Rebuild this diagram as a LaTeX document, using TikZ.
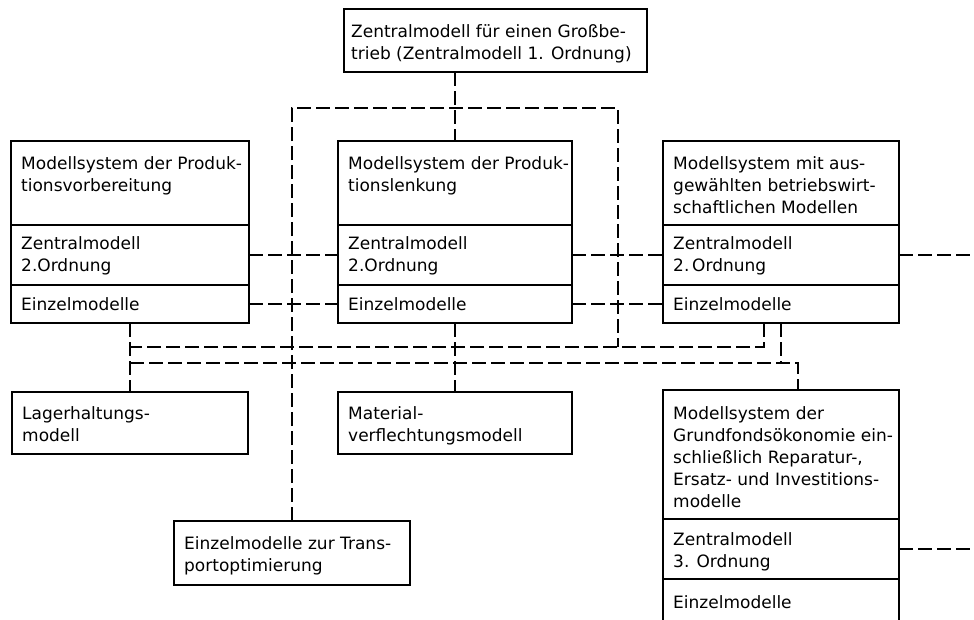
\documentclass[tikz,border=0pt]{standalone}
\usepackage{fontspec}
\setmainfont{DejaVu Sans}
\begin{document}
\begin{tikzpicture}[x=1pt,y=-1pt,
  box/.style={draw, line width=2pt, anchor=north west, inner sep=0pt, outer sep=0pt},
  txt/.style={anchor=north west, align=left, inner sep=0pt, font=\fontsize{17}{22}\selectfont},
  link/.style={line width=2pt, dash pattern=on 14pt off 5pt}]
\path[use as bounding box, clip] (0,0) rectangle (974,619);
\fill[white] (0,0) rectangle (974,619);

% top-level central model
\node[box, minimum width=303pt, minimum height=63pt] (T) at (344,9) {};
\node[txt] (Tt) at ([xshift=7pt,yshift=-15pt]T.north west)
  {Zentralmodell für einen Großbe-\\trieb (Zentralmodell 1. Ordnung)};

% left column: Produktionsvorbereitung
\node[box, minimum width=238pt, minimum height=84pt] (L1) at (11,141) {};
\node[box, minimum width=238pt, minimum height=60pt] (L2) at (11,225) {};
\node[box, minimum width=238pt, minimum height=38pt] (L3) at (11,285) {};
\node[txt] (L1t) at ([xshift=10pt,yshift=-15pt]L1.north west) {Modellsystem der Produk-\\tionsvorbereitung};
\node[txt] (L2t) at ([xshift=10pt,yshift=-11pt]L2.north west) {Zentralmodell\\2.Ordnung};
\node[txt] (L3t) at ([xshift=10pt,yshift=-12pt]L3.north west) {Einzelmodelle};

% middle column: Produktionslenkung
\node[box, minimum width=234pt, minimum height=84pt] (M1) at (338,141) {};
\node[box, minimum width=234pt, minimum height=60pt] (M2) at (338,225) {};
\node[box, minimum width=234pt, minimum height=38pt] (M3) at (338,285) {};
\node[txt] (M1t) at ([xshift=10pt,yshift=-15pt]M1.north west) {Modellsystem der Produk-\\tionslenkung};
\node[txt] (M2t) at ([xshift=10pt,yshift=-11pt]M2.north west) {Zentralmodell\\2.Ordnung};
\node[txt] (M3t) at ([xshift=10pt,yshift=-12pt]M3.north west) {Einzelmodelle};

% right column: betriebswirtschaftliche Modelle
\node[box, minimum width=236pt, minimum height=84pt] (R1) at (663,141) {};
\node[box, minimum width=236pt, minimum height=60pt] (R2) at (663,225) {};
\node[box, minimum width=236pt, minimum height=38pt] (R3) at (663,285) {};
\node[txt] (R1t) at ([xshift=10pt,yshift=-15pt]R1.north west) {Modellsystem mit aus-\\gewählten betriebswirt-\\schaftlichen Modellen};
\node[txt] (R2t) at ([xshift=10pt,yshift=-11pt]R2.north west) {Zentralmodell\\2.\,Ordnung};
\node[txt] (R3t) at ([xshift=10pt,yshift=-12pt]R3.north west) {Einzelmodelle};

% single models
\node[box, minimum width=236pt, minimum height=62pt] (LA) at (12,392) {};
\node[txt] (LAt) at ([xshift=10pt,yshift=-14pt]LA.north west) {Lagerhaltungs-\\modell};
\node[box, minimum width=234pt, minimum height=62pt] (MA) at (338,392) {};
\node[txt] (MAt) at ([xshift=10pt,yshift=-14pt]MA.north west) {Material-\\verflechtungsmodell};
\node[box, minimum width=236pt, minimum height=64pt] (TR) at (174,521) {};
\node[txt] (TRt) at ([xshift=10pt,yshift=-15pt]TR.north west) {Einzelmodelle zur Trans-\\portoptimierung};

% Grundfondsökonomie
\node[box, minimum width=236pt, minimum height=129pt] (G1) at (663,390) {};
\node[box, minimum width=236pt, minimum height=60pt] (G2) at (663,519) {};
\node[box, minimum width=236pt, minimum height=60pt] (G3) at (663,579) {};
\node[txt] (G1t) at ([xshift=10pt,yshift=-16pt]G1.north west) {Modellsystem der\\Grundfondsökonomie ein-\\schließlich Reparatur-,\\Ersatz- und Investitions-\\modelle};
\node[txt] (G2t) at ([xshift=10pt,yshift=-13pt]G2.north west) {Zentralmodell\\3. Ordnung};
\node[txt] (G3t) at ([xshift=10pt,yshift=-16pt]G3.north west) {Einzelmodelle};

% helper points for the dashed routing
\coordinate (loopNW) at (292,108);
\coordinate (loopNE) at (618,108);
\coordinate (loopSE) at (618,347);
\coordinate (busA) at (0,347);
\coordinate (busB) at (0,363);
\coordinate (dropA) at (764,323);
\coordinate (dropB) at (781,323);
\coordinate (gdrop) at (798,390);
\coordinate (edge) at (974,0);

% dashed connections
\draw[link] (M1.north |- T.south) -- (M1.north);
\draw[link] (TR.north) -- (TR.north |- loopNW) -- (loopNE) -- (loopSE);
\draw[link] (L2.east) -- (M2.west);
\draw[link] (L3.east) -- (M3.west);
\draw[link] (M2.east) -- (R2.west);
\draw[link] (M3.east) -- (R3.west);
\draw[link] (R2.east) -- (R2.east -| edge);
\draw[link] (G2.east) -- (G2.east -| edge);
\draw[link] (dropA) -- (dropA |- busA) -- (L3.south |- busA);
\draw[link] (L3.south |- busB) -- (gdrop |- busB) -- (gdrop);
\draw[link] (dropB) -- (dropB |- busB);
\draw[link] (L3.south) -- (L3.south |- LA.north);
\draw[link] (M3.south) -- (MA.north);
\end{tikzpicture}
\end{document}
